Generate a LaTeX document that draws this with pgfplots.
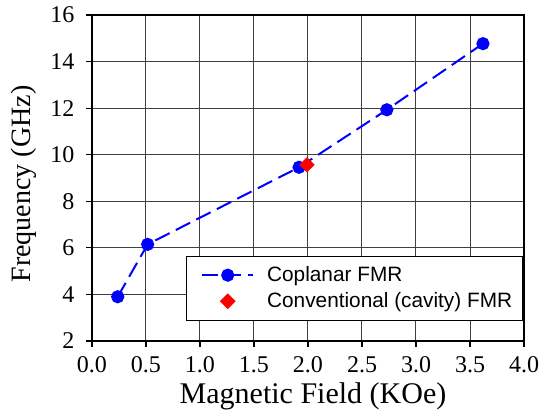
\documentclass[border=0pt]{standalone}
\usepackage{fontspec}
\setmainfont{Liberation Serif}
\newfontfamily\legendfont{Liberation Sans}
\usepackage{pgfplots}
\pgfplotsset{compat=1.18}

\begin{document}
\begin{tikzpicture}
\begin{axis}[
  scale only axis,
  width=216pt,
  height=163pt,
  xmin=0, xmax=4,
  ymin=2, ymax=16,
  xtick={0,0.5,...,4},
  ytick={2,4,...,16},
  xtick pos=bottom, ytick pos=left,
  xticklabel style={yshift=-1.5pt,
    /pgf/number format/fixed,/pgf/number format/fixed zerofill,
    /pgf/number format/precision=1},
  yticklabel style={xshift=-2.5pt},
  /pgf/number format/assume math mode=true,
  tick label style={font=\fontsize{12}{14}\selectfont},
  xlabel={Magnetic Field (KOe)},
  ylabel={Frequency (GHz)},
  xlabel style={font=\fontsize{15}{17}\selectfont,
    at={(axis description cs:0.5,0)},anchor=base,yshift=-31pt,xshift=2.5pt},
  % ylabel is rotated: xshift runs along the axis, yshift away from it
  ylabel style={font=\fontsize{14}{16}\selectfont,
    at={(axis description cs:0,0.5)},anchor=base,xshift=-3pt,yshift=30.5pt},
  grid=major,
  grid style={black!75,line width=0.5pt},
  axis line style={line width=1pt},
  tick align=outside,
  tick style={black,line width=0.6pt},
  major tick length=2.8pt,
  legend style={
    at={(0.997,0.062)},anchor=south east,
    font=\legendfont\fontsize{10.4}{12.5}\selectfont,
    draw=black,line width=0.5pt,
    inner xsep=3pt,inner ysep=3pt,
    row sep=0pt,
  },
  legend cell align=left,
]

% coplanar waveguide resonance points
\addplot[blue,line width=1pt,dash pattern=on 8pt off 3.5pt,
  mark=*,mark size=2.8pt,mark options={solid},
  legend image code/.code={
    \path (-4.5pt,0pt) (30pt,0pt);
    \draw[mark repeat=2,mark phase=2] plot coordinates {(0cm,0cm) (0.45cm,0cm) (0.9cm,0cm)};
  }] coordinates {
  (0.238,3.90) (0.515,6.15) (1.917,9.46) (2.730,11.93) (3.620,14.77)
};
\addlegendentry{Coplanar FMR\hspace{2pt}}

% cavity measurement
\addplot[only marks,red,mark=square*,mark size=2.5pt,mark options={rotate=45},
  legend image code/.code={
    \path (-4.5pt,0pt) (30pt,0pt);
    \draw plot coordinates {(0.45cm,0cm)};
  }] coordinates {
  (1.99,9.57)
};
\addlegendentry{Conventional (cavity) FMR\hspace{2pt}}

\end{axis}
\pgfresetboundingbox
\path[use as bounding box] ([shift={(-46pt,-36pt)}]current axis.south west)
  rectangle ([shift={(8pt,7.5pt)}]current axis.north east);
\end{tikzpicture}
\end{document}
